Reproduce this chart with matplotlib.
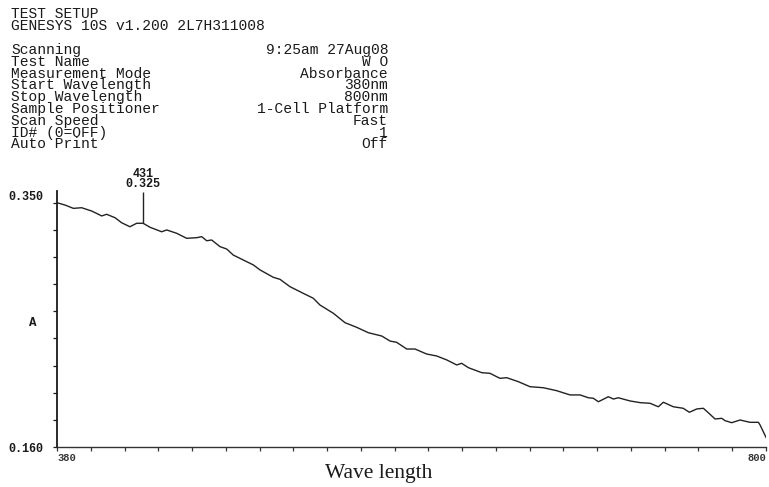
import numpy as np
import matplotlib
matplotlib.use("Agg")
import matplotlib.pyplot as plt

# ---- data ----
wavelength = [380, 384.7, 389.7, 394.6, 400.6, 406.5, 409.4, 414.4, 418.3, 423.2,
              427.2, 431, 435.1, 442.0, 445.0, 450.9, 456.8, 462.8, 465.7, 468.7,
              471.6, 476.6, 480.5, 484.4, 490.4, 496.3, 500.3, 508.1, 512.1, 518.0,
              525.9, 531.8, 535.8, 543.7, 550.6, 557.5, 564.4, 572.4, 577.3, 581.2,
              587.2, 592.1, 599.0, 604.9, 610.9, 616.8, 619.7, 623.7, 631.6, 636.5,
              642.4, 646.4, 653.3, 660.2, 668.1, 676.0, 683.9, 689.8, 694.8, 697.7,
              700.7, 706.6, 709.6, 712.5, 719.5, 725.4, 731.3, 736.2, 739.2, 745.1,
              751.0, 754.6, 759.0, 762.9, 765.8, 769.8, 773.8, 775.7, 779.7, 784.6,
              790.5, 795.5, 796.5, 800]
absorbance = [0.3500, 0.3482, 0.3456, 0.3461, 0.3435, 0.3397, 0.3410, 0.3383, 0.3344, 0.3313,
              0.3340, 0.3340, 0.3309, 0.3274, 0.3288, 0.3262, 0.3223, 0.3228, 0.3236, 0.3204,
              0.3210, 0.3158, 0.3140, 0.3093, 0.3054, 0.3016, 0.2977, 0.2920, 0.2904, 0.2847,
              0.2795, 0.2757, 0.2704, 0.2640, 0.2567, 0.2531, 0.2489, 0.2463, 0.2424, 0.2414,
              0.2362, 0.2362, 0.2323, 0.2308, 0.2277, 0.2238, 0.2251, 0.2217, 0.2178, 0.2173,
              0.2134, 0.2139, 0.2108, 0.2069, 0.2061, 0.2038, 0.2005, 0.2005, 0.1983, 0.1979,
              0.1952, 0.1991, 0.1973, 0.1983, 0.1958, 0.1945, 0.1940, 0.1913, 0.1948, 0.1913,
              0.1901, 0.1870, 0.1896, 0.1901, 0.1867, 0.1818, 0.1823, 0.1805, 0.1789, 0.1810,
              0.1792, 0.1792, 0.1771, 0.1675]

x_ticks = list(range(380, 801, 20))
x_tick_labels = ["380"] + [""] * (len(x_ticks) - 2) + ["800"]
y_ticks = list(np.linspace(0.160, 0.350, 10))
y_tick_labels = ["0.160"] + [""] * 8 + ["0.350"]

peak_nm = 431
peak_label = "431\n0.325"

title_lines = ["TEST SETUP", "GENESYS 10S v1.200 2L7H311008"]
setup_names = ["Scanning", "Test Name", "Measurement Mode", "Start Wavelength",
               "Stop Wavelength", "Sample Positioner", "Scan Speed", "ID# (0=OFF)",
               "Auto Print"]
setup_values = ["9:25am 27Aug08", "W O", "Absorbance", "380nm", "800nm",
                "1-Cell Platform", "Fast", "1", "Off"]

W, H = 769, 487
fig = plt.figure(figsize=(W / 100, H / 100), dpi=100)
fig.patch.set_facecolor("white")

mono = "Liberation Mono"
ink = "#1a1a1a"
hdr_size = 10.5
hdr_ls = 0.80

fig.text(11 / W, 1 - 7 / H, "\n".join(title_lines), family=mono, fontsize=hdr_size,
         color=ink, ha="left", va="top", linespacing=hdr_ls)
fig.text(11 / W, 1 - 43 / H, "\n".join(setup_names), family=mono, fontsize=hdr_size,
         color=ink, ha="left", va="top", linespacing=hdr_ls)
fig.text(388 / W, 1 - 43 / H, "\n".join(setup_values), family=mono, fontsize=hdr_size,
         color=ink, ha="right", va="top", multialignment="right", linespacing=hdr_ls)

ax = fig.add_axes([57 / W, 40 / H, (766 - 57) / W, 256 / H])
ax.plot(wavelength, absorbance, color="#222222", lw=1.0)
ax.set_xlim(380, 800)
ax.set_ylim(0.160, 0.3591)

for s in ["top", "right"]:
    ax.spines[s].set_visible(False)
ax.spines["left"].set_linewidth(1.3)
ax.spines["bottom"].set_linewidth(1.0)
ax.spines["left"].set_color(ink)
ax.spines["bottom"].set_color("#333333")

ax.set_xticks(x_ticks)
ax.set_xticklabels(x_tick_labels, family=mono, fontweight="bold", fontsize=7.5, color=ink)
ax.tick_params(axis="x", direction="out", length=3, width=0.9, pad=1.5, colors="#333333")
xt = ax.get_xticklabels()
xt[0].set_horizontalalignment("left")
xt[-1].set_horizontalalignment("right")

ax.set_yticks(y_ticks)
ax.set_yticklabels(y_tick_labels, family=mono, fontweight="bold", fontsize=8.5, color=ink)
ax.tick_params(axis="y", direction="out", length=3, width=0.9, pad=7, colors=ink)
ax.get_yticklabels()[-1].set_verticalalignment("bottom")

# peak marker
peak_val = np.interp(peak_nm, wavelength, absorbance)
ax.vlines(peak_nm, peak_val, 0.3585, color="#222222", lw=1.0)
ax.annotate(peak_label, xy=(peak_nm, 1.0), xycoords=("data", "axes fraction"),
            xytext=(0, 1), textcoords="offset points", ha="center", va="bottom",
            family=mono, fontweight="bold", fontsize=8.5, linespacing=0.75,
            color=ink, annotation_clip=False)

fig.text(33 / W, 1 - 323 / H, "A", family=mono, fontweight="bold", fontsize=9,
         color=ink, ha="center", va="center")

fig.text(379 / W, 1 - 478 / H, "Wave length", family="Liberation Serif",
         fontsize=15.5, color=ink, ha="center", va="baseline")

fig.savefig("out.png", dpi=100, facecolor="white")
